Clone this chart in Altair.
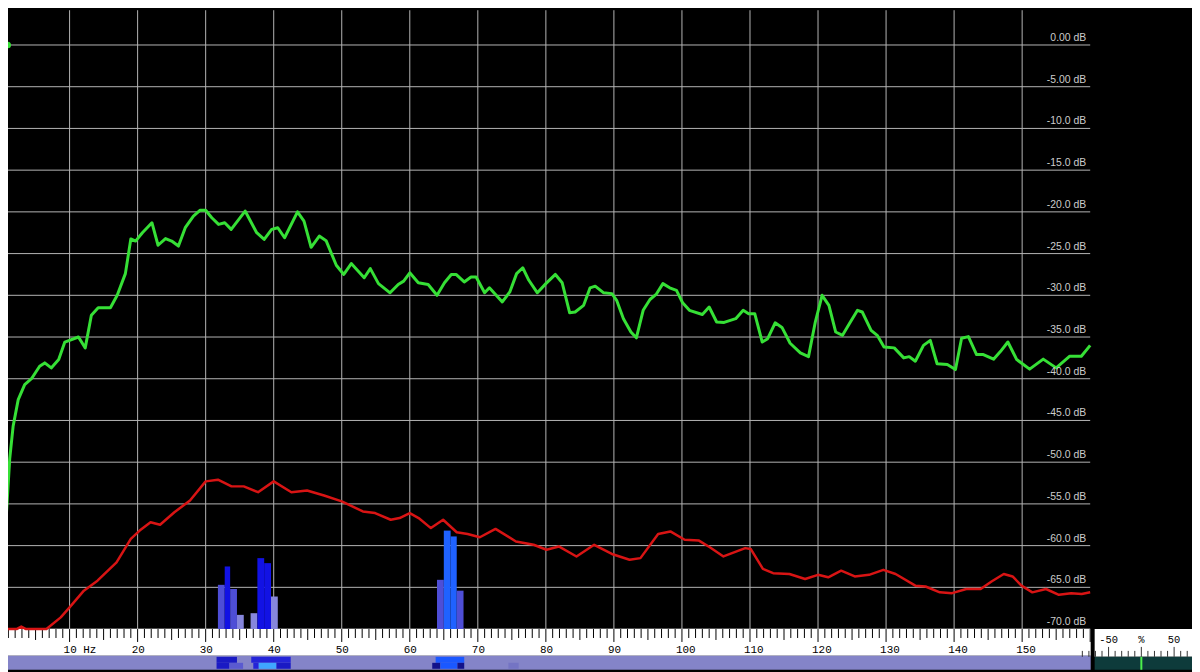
import altair as alt
import pandas as pd

# ---------------- data ----------------
green_hz = [0.0, 0.5, 0.7, 1.2, 1.7, 2.45, 3.4, 4.4, 5.6, 6.35, 7.3, 8.4, 9.3, 11.3, 12.3, 13.2, 14.2, 16.0,
            17.0, 18.2, 19.0, 19.7, 20.7, 22.1, 23.0, 24.1, 25.0, 26.0, 27.0, 28.2, 29.2, 30.0, 30.9, 31.9,
            32.8, 33.75, 35.8, 37.5, 38.6, 39.7, 40.6, 41.6, 43.5, 44.45, 45.5, 46.7, 47.7, 49.2, 50.3, 51.4,
            53.3, 54.2, 55.4, 57.1, 58.3, 59.1, 60.0, 61.25, 62.7, 64.0, 65.1, 66.1, 66.8, 68.0, 69.0, 69.75,
            71.0, 71.7, 73.6, 74.7, 75.7, 76.6, 77.5, 78.75, 80.0, 81.4, 82.4, 83.5, 84.3, 85.55, 86.5, 87.25,
            88.5, 89.7, 90.4, 91.4, 92.5, 93.3, 94.3, 95.3, 96.2, 97.2, 98.2, 99.2, 100.1, 101.1, 103.0, 104.0,
            105.1, 106.2, 107.9, 109.0, 109.8, 110.7, 111.8, 112.6, 113.7, 114.7, 115.9, 117.4, 118.6, 119.6,
            120.6, 121.6, 122.6, 123.6, 124.6, 125.8, 126.5, 127.8, 128.7, 129.7, 131.2, 132.6, 133.4, 134.3,
            135.5, 136.5, 137.5, 139.0, 140.2, 141.1, 142.1, 143.3, 144.3, 145.8, 146.8, 147.9, 149.2, 151.1,
            153.1, 155.0, 157.0, 158.7, 160.0]
green_db = [-57.6, -57.5, -56.4, -49.6, -45.7, -42.5, -40.7, -40.0, -38.5, -38.1, -38.7, -37.7, -35.6, -35.0,
            -36.3, -32.4, -31.5, -31.5, -30.0, -27.4, -23.25, -23.5, -22.5, -21.3, -24.0, -23.2, -23.5, -24.1,
            -21.9, -20.5, -19.8, -19.8, -20.7, -21.5, -21.3, -22.1, -19.9, -22.5, -23.3, -22.1, -21.9, -23.1,
            -20.0, -21.1, -24.25, -22.9, -23.45, -26.4, -27.5, -26.2, -27.9, -26.8, -28.6, -29.7, -28.7, -28.3,
            -27.3, -28.5, -28.7, -30.0, -28.5, -27.5, -27.5, -28.4, -27.8, -27.8, -29.7, -29.1, -30.8, -29.6,
            -27.4, -26.7, -28.2, -29.7, -28.6, -27.5, -28.5, -32.1, -32.0, -31.2, -29.1, -28.9, -29.7, -29.8,
            -30.6, -32.8, -34.4, -35.1, -31.8, -30.5, -29.9, -28.6, -29.1, -29.4, -30.9, -31.8, -32.3, -31.4,
            -33.2, -33.25, -32.8, -31.8, -32.2, -32.2, -35.6, -35.2, -33.3, -33.85, -35.75, -36.9, -37.35, -33.2,
            -30.0, -31.2, -34.4, -34.8, -33.4, -31.8, -32.0, -34.2, -34.8, -36.2, -36.3, -37.5, -37.35, -37.9,
            -36.0, -35.4, -38.2, -38.3, -38.9, -35.15, -34.95, -37.1, -37.1, -37.65, -36.75, -35.6, -37.7, -38.85,
            -37.65, -38.7, -37.3, -37.3, -36.0]

red_hz = [0.0, 2.2, 2.9, 3.6, 6.6, 8.7, 10.0, 12.1, 14.1, 16.9, 19.0, 20.3, 21.9, 23.3, 25.4, 27.7, 30.0, 31.8,
          33.8, 35.6, 37.7, 40.0, 42.6, 44.9, 47.4, 50.0, 53.1, 54.9, 57.2, 58.5, 60.0, 61.3, 63.1, 64.9, 66.9,
          68.5, 70.3, 72.6, 75.6, 78.2, 80.1, 81.9, 84.5, 87.1, 89.7, 92.3, 93.9, 96.5, 98.3, 100.4, 102.5,
          104.1, 106.1, 109.3, 110.1, 111.9, 113.4, 115.8, 118.1, 120.0, 121.5, 123.4, 125.4, 127.5, 129.6,
          131.4, 134.3, 135.8, 137.9, 139.7, 141.8, 143.9, 145.5, 147.3, 148.6, 149.9, 151.5, 153.5, 155.4,
          157.2, 158.75, 160.0]
red_db = [-70.0, -70.0, -69.7, -70.0, -70.0, -68.6, -67.4, -65.4, -64.2, -62.0, -59.2, -58.2, -57.2, -57.5,
          -56.0, -54.6, -52.3, -52.1, -52.9, -52.9, -53.6, -52.3, -53.6, -53.4, -54.0, -54.7, -55.9, -56.1,
          -56.9, -56.7, -56.1, -56.7, -57.9, -56.9, -58.4, -58.6, -59.0, -58.0, -59.5, -59.9, -60.5, -60.1,
          -61.3, -59.9, -61.0, -61.7, -61.5, -58.6, -58.3, -59.3, -59.4, -60.2, -61.3, -60.3, -60.4, -62.8,
          -63.3, -63.4, -64.0, -63.5, -63.8, -63.0, -63.7, -63.5, -62.9, -63.4, -64.8, -64.9, -65.6, -65.7,
          -65.2, -65.2, -64.3, -63.4, -63.7, -64.8, -65.6, -65.2, -65.9, -65.7, -65.8, -65.6]

bar_hz0 = [31.8, 32.8, 33.6, 34.6, 36.6, 37.6, 38.6, 39.6, 64.0, 65.0, 66.0, 66.9]
bar_hz1 = [32.8, 33.6, 34.6, 35.6, 37.6, 38.6, 39.6, 40.6, 65.0, 66.0, 66.9, 67.9]
bar_db = [-64.7, -62.5, -65.2, -68.3, -68.1, -61.5, -62.1, -66.1, -64.1, -58.2, -58.9, -65.4]
bar_level = ["mid", "high", "mid", "low", "low", "high", "high", "low", "mid", "peak", "peak", "mid"]

strip_top_hz0 = [31.6, 36.7, 63.8]
strip_top_hz1 = [34.6, 42.5, 68.0]
strip_top_level = ["dark", "blue", "peak"]
strip_bot_hz0 = [31.6, 33.5, 37.0, 37.8, 40.4, 63.3, 64.5, 67.0, 74.5]
strip_bot_hz1 = [33.5, 35.5, 37.8, 40.4, 42.5, 64.5, 67.0, 68.0, 76.0]
strip_bot_level = ["dark", "mid", "blue", "cyan", "dark", "navy", "peak", "navy", "faint"]

grid_hz = [0, 10, 20, 30, 40, 50, 60, 70, 80, 90, 100, 110, 120, 130, 140, 150]
grid_db = [0, -5, -10, -15, -20, -25, -30, -35, -40, -45, -50, -55, -60, -65, -70]
db_labels = ["0.00 dB", "-5.00 dB", "-10.0 dB", "-15.0 dB", "-20.0 dB", "-25.0 dB", "-30.0 dB", "-35.0 dB",
             "-40.0 dB", "-45.0 dB", "-50.0 dB", "-55.0 dB", "-60.0 dB", "-65.0 dB", "-70.0 dB"]
hz_label_pos = [10, 20, 30, 40, 50, 60, 70, 80, 90, 100, 110, 120, 130, 140, 150]
hz_labels = ["10 Hz", "20", "30", "40", "50", "60", "70", "80", "90", "100", "110", "120", "130", "140", "150"]
ruler_hz = list(range(0, 161))

meter_pct = [-90, -80, -70, -60, -50, -40, -30, -20, -10, 0, 10, 20, 30, 40, 50, 60, 70, 80, 90]
meter_label_pct = [-50, 0, 50]
meter_labels = ["-50", "%", "50"]
meter_value = [0]

# ---------------- layout (pixels) ----------------
W, H = 1192, 664
X0, PW = -6.5, 1089.5   # x pixels of 0 Hz and 160 Hz
PH = 623                # y pixel of -70 dB (bottom of plot)
R0, R1 = 623, 650       # ruler band
S0, S1 = 650, 664       # spectrogram strip
MX0 = 1094              # meter box left

XS = alt.Scale(domain=[0, 160], range=[X0, PW])
YS = alt.Scale(domain=[-70, 4.1667], range=[PH, 0])
MS = alt.Scale(domain=[-100, 100], range=[1075, 1207])

GRID = "#b4b4b4"

df_green = pd.DataFrame({"hz": green_hz, "db": green_db})
df_red = pd.DataFrame({"hz": red_hz, "db": red_db})
df_bar = pd.DataFrame({"hz0": bar_hz0, "hz1": bar_hz1, "db": bar_db, "level": bar_level})
df_st = pd.DataFrame({"hz0": strip_top_hz0, "hz1": strip_top_hz1, "level": strip_top_level})
df_sb = pd.DataFrame({"hz0": strip_bot_hz0, "hz1": strip_bot_hz1, "level": strip_bot_level})
df_gx = pd.DataFrame({"hz": grid_hz})
df_gy = pd.DataFrame({"db": grid_db, "label": db_labels})
df_hzl = pd.DataFrame({"hz": hz_label_pos, "label": hz_labels})
df_rt = pd.DataFrame({"hz": ruler_hz})
df_rt["tier"] = ["major" if h % 10 == 0 else ("mid" if h % 5 == 0 else "minor") for h in ruler_hz]
df_mt = pd.DataFrame({"pct": meter_pct})
df_mt["tier"] = ["major" if p % 50 == 0 else "minor" for p in meter_pct]
df_ml = pd.DataFrame({"pct": meter_label_pct, "label": meter_labels})
df_mv = pd.DataFrame({"pct": meter_value})
one = pd.DataFrame({"k": [0]})

X = lambda f: alt.X(f, scale=XS, axis=None)
Y = lambda f: alt.Y(f, scale=YS, axis=None)

bar_colors = alt.Scale(domain=["low", "mid", "high", "peak"],
                       range=["#8686dc", "#4e4ed6", "#1212e4", "#1f62ff"])
strip_colors = alt.Scale(domain=["dark", "blue", "mid", "cyan", "navy", "peak", "faint"],
                         range=["#1a1ac4", "#2424d8", "#5a5ad0", "#3fa6ff", "#12128a", "#1a58ff", "#7474c4"])

# grid
vgrid = alt.Chart(df_gx).mark_rule(color=GRID, strokeWidth=1).encode(
    x=X("hz:Q"), y=alt.value(0), y2=alt.value(PH))
hgrid = alt.Chart(df_gy).mark_rule(color=GRID, strokeWidth=1).encode(
    y=Y("db:Q"), x=alt.value(0), x2=alt.value(PW))
dblab = alt.Chart(df_gy).mark_text(align="right", baseline="bottom", dy=-2, font="Liberation Sans",
                                   fontSize=10.5, color="#cccccc").encode(
    y=Y("db:Q"), x=alt.value(PW - 4), text="label:N")

# bars
bars = alt.Chart(df_bar).mark_rect().encode(
    x=X("hz0:Q"), x2="hz1:Q", y=Y("db:Q"), y2=alt.datum(-70),
    color=alt.Color("level:N", scale=bar_colors, legend=None))

# ruler
ruler_bg = alt.Chart(one).mark_rect(color="white").encode(
    x=alt.value(0), x2=alt.value(PW + 0.5), y=alt.value(R0), y2=alt.value(R1))
tick_minor = alt.Chart(df_rt).transform_filter(alt.datum.tier == "minor").mark_rule(
    color="black", strokeWidth=1).encode(x=X("hz:Q"), y=alt.value(R0), y2=alt.value(R0 + 9))
tick_mid = alt.Chart(df_rt).transform_filter(alt.datum.tier == "mid").mark_rule(
    color="black", strokeWidth=1).encode(x=X("hz:Q"), y=alt.value(R0), y2=alt.value(R0 + 11))
tick_major = alt.Chart(df_rt).transform_filter(alt.datum.tier == "major").mark_rule(
    color="black", strokeWidth=1).encode(x=X("hz:Q"), y=alt.value(R0), y2=alt.value(R0 + 13))
hzlab = alt.Chart(df_hzl).mark_text(align="left", baseline="middle", dx=-6, font="Liberation Mono",
                                    fontSize=11, color="black").encode(
    x=X("hz:Q"), y=alt.value(R0 + 21), text="label:N")

# spectrogram strip
strip_bg = alt.Chart(one).mark_rect(color="#8484c8").encode(
    x=alt.value(0), x2=alt.value(PW + 0.5), y=alt.value(S0), y2=alt.value(S1))
strip_top = alt.Chart(df_st).mark_rect().encode(
    x=X("hz0:Q"), x2="hz1:Q", y=alt.value(S0 + 1), y2=alt.value(S0 + 7),
    color=alt.Color("level:N", scale=strip_colors, legend=None))
strip_bot = alt.Chart(df_sb).mark_rect().encode(
    x=X("hz0:Q"), x2="hz1:Q", y=alt.value(S0 + 7), y2=alt.value(S1 - 1),
    color=alt.Color("level:N", scale=strip_colors, legend=None))

# traces
red = alt.Chart(df_red).mark_line(color="#d81414", strokeWidth=2.5, strokeJoin="round").encode(
    x=X("hz:Q"), y=Y("db:Q"))
green = alt.Chart(df_green).mark_line(color="#36e036", strokeWidth=3, strokeJoin="round").encode(
    x=X("hz:Q"), y=Y("db:Q"))
gdot = alt.Chart(pd.DataFrame({"hz": [0.9], "db": [0]})).mark_point(
    filled=True, color="#36e036", size=45, opacity=1).encode(x=X("hz:Q"), y=Y("db:Q"))

# meter widget
m_box = alt.Chart(one).mark_rect(color="white").encode(
    x=alt.value(MX0), x2=alt.value(W), y=alt.value(R0), y2=alt.value(651))
m_teal = alt.Chart(one).mark_rect(color="#0e3b3b").encode(
    x=alt.value(MX0), x2=alt.value(W), y=alt.value(651), y2=alt.value(H))
m_minor = alt.Chart(df_mt).transform_filter(alt.datum.tier == "minor").mark_rule(
    color="#333333", strokeWidth=1).encode(
    x=alt.X("pct:Q", scale=MS, axis=None), y=alt.value(645), y2=alt.value(651))
m_major = alt.Chart(df_mt).transform_filter(alt.datum.tier == "major").mark_rule(
    color="#333333", strokeWidth=1).encode(
    x=alt.X("pct:Q", scale=MS, axis=None), y=alt.value(641), y2=alt.value(651))
m_lab = alt.Chart(df_ml).mark_text(baseline="middle", font="Liberation Mono", fontSize=10.5,
                                   color="black").encode(
    x=alt.X("pct:Q", scale=MS, axis=None), y=alt.value(634), text="label:N")
m_val = alt.Chart(df_mv).mark_rule(color="#4cf04c", strokeWidth=2).encode(
    x=alt.X("pct:Q", scale=MS, axis=None), y=alt.value(651), y2=alt.value(H))

chart = alt.layer(
    vgrid, hgrid, bars, ruler_bg, tick_minor, tick_mid, tick_major, hzlab,
    strip_bg, strip_top, strip_bot, red, green, gdot, dblab,
    m_box, m_teal, m_minor, m_major, m_lab, m_val
).resolve_scale(x="independent", color="independent").properties(
    width=W, height=H, autosize="none", padding=0, background="black"
).configure_view(strokeWidth=0)

chart.save("out.html", embed_options={"renderer": "svg", "actions": False})
